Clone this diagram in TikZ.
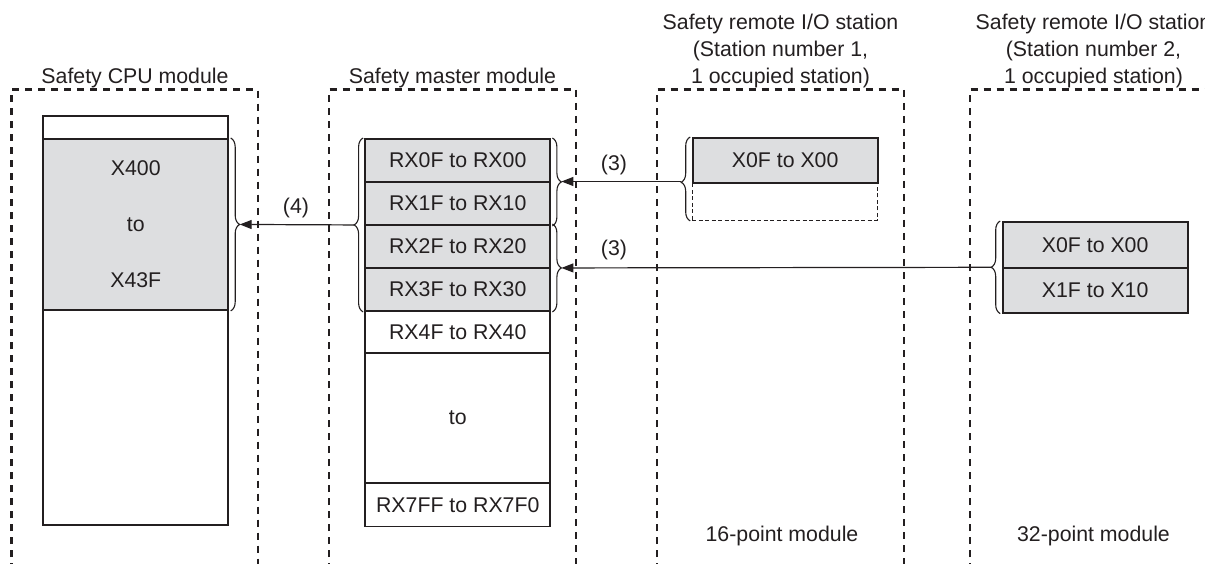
\documentclass[tikz,border=0pt]{standalone}
\usepackage{fontspec}
\setmainfont{Liberation Sans}
\usetikzlibrary{arrows.meta,decorations.pathreplacing,calc}
\definecolor{ink}{HTML}{231F20}
\definecolor{cellgray}{HTML}{DDDEE0}
\begin{document}
\begin{tikzpicture}[x=1pt,y=-1pt,
  every node/.style={text=ink, font=\fontsize{21.3}{25}\selectfont},
  cell/.style={draw=ink, line width=1.9pt, minimum width=185pt, inner sep=0pt, anchor=north west, fill=white},
  gcell/.style={cell, fill=cellgray},
  frame/.style={draw=ink, line width=2.6pt, dash pattern=on 7pt off 6pt},
  brc/.style={draw=ink, line width=1.1pt, decorate, decoration={brace, amplitude=9pt}},
  arr/.style={draw=ink, line width=1.2pt, -{Triangle[length=12pt,width=9pt]}},
  title/.style={anchor=base},
  lab/.style={anchor=center}]
\useasboundingbox (0,0) rectangle (1205,564);
\clip (0,0) rectangle (1205,564);
\fill[white] (0,0) rectangle (1205,564);

% dashed frames (open at bottom)
\draw[frame] (11.7,570) -- (11.7,89.5) -- (258,89.5) -- (258,570);
\draw[frame] (329,570) -- (329,89.5) -- (576,89.5) -- (576,570);
\draw[frame] (657,570) -- (657,89.5) -- (904,89.5) -- (904,570);
\draw[frame] (970,570) -- (970,89.5) -- (1217,89.5) -- (1217,570);

% titles
\node[title] (t1) at (135,83.3) {Safety CPU module};
\node[title] (t2) at (452.5,83.3) {Safety master module};
\node[title] (t3a) at (780.5,30) {Safety remote I/O station};
\node[title] (t3b) at (780.5,56.7) {(Station number 1,};
\node[title] (t3c) at (780.5,83.3) {1 occupied station)};
\node[title] (t4a) at (1093.5,30) {Safety remote I/O station};
\node[title] (t4b) at (1093.5,56.7) {(Station number 2,};
\node[title] (t4c) at (1093.5,83.3) {1 occupied station)};
\node[title] (b3) at (782,541) {16-point module};
\node[title] (b4) at (1093.5,541) {32-point module};

% CPU module
\node[cell, minimum height=23pt] (cpuT) at (42.3,115) {};
\node[gcell, minimum height=171pt, align=center, font=\fontsize{21.3}{56}\selectfont] (cpuG) at (42.3,138) {X400\\to\\X43F};
\node[cell, minimum height=215pt] (cpuB) at (42.3,309) {};

% master module
\node[gcell, minimum height=43pt] (m0) at (364.3,138) {RX0F to RX00};
\node[gcell, minimum height=43pt] (m1) at (364.3,181) {RX1F to RX10};
\node[gcell, minimum height=43pt] (m2) at (364.3,224) {RX2F to RX20};
\node[gcell, minimum height=43pt] (m3) at (364.3,267) {RX3F to RX30};
\node[cell, minimum height=42pt] (m4) at (364.3,310) {RX4F to RX40};
\node[cell, minimum height=130pt] (m5) at (364.3,352) {to};
\node[cell, minimum height=43.5pt] (m6) at (364.3,482) {RX7FF to RX7F0};

% station 1
\node[cell, draw=ink, line width=0.9pt, dash pattern=on 4pt off 2.5pt, minimum height=38.3pt] (s1b) at (691.7,181.7) {};
\node[gcell, minimum height=44.7pt] (s1a) at (691.7,137) {X0F to X00};

% station 2
\node[gcell, minimum height=45.7pt] (s2a) at (1001.7,221) {X0F to X00};
\node[gcell, minimum height=45pt] (s2b) at (1001.7,266.7) {X1F to X10};

% braces
\draw[brc] ($(cpuG.north east)+(1.5,0)$) -- ($(cpuG.south east)+(1.5,0)$);
\coordinate (cpuTip) at ($(cpuG.east)+(10.5,0)$);
\draw[brc] ($(m3.south west)+(-1.2,0)$) -- ($(m0.north west)+(-1.2,0)$);
\coordinate (mL) at ($(m0.north west)!0.5!(m3.south west)+(-10.2,0)$);
\draw[brc] ($(m0.north east)+(1.2,0)$) -- ($(m1.south east)+(1.2,0)$);
\coordinate (mR1) at ($(m0.north east)!0.5!(m1.south east)+(10.2,0)$);
\draw[brc] ($(m2.north east)+(1.2,0)$) -- ($(m3.south east)+(1.2,0)$);
\coordinate (mR2) at ($(m2.north east)!0.5!(m3.south east)+(10.2,0)$);
\draw[brc, decoration={brace, amplitude=9pt, aspect=0.46}] ($(s1b.south west)+(-1.5,0)$) -- ($(s1a.north west)+(-1.5,0)$);
\coordinate (s1tip) at (681.2,181.5);
\draw[brc] ($(s2b.south west)+(-1.5,0)$) -- ($(s2a.north west)+(-1.5,0)$);
\coordinate (s2tip) at ($(s2a.north west)!0.5!(s2b.south west)+(-10.5,0)$);

% arrows
\draw[arr] (mL) -- (cpuTip);
\draw[arr] (s1tip) -- (s1tip -| mR1);
\draw[arr] (s2tip) -- (mR2);

% labels
\node[lab] (l4) at (296,208) {(4)};
\node[lab] (l3a) at (614,165) {(3)};
\node[lab] (l3b) at (614,250) {(3)};
\end{tikzpicture}
\end{document}
